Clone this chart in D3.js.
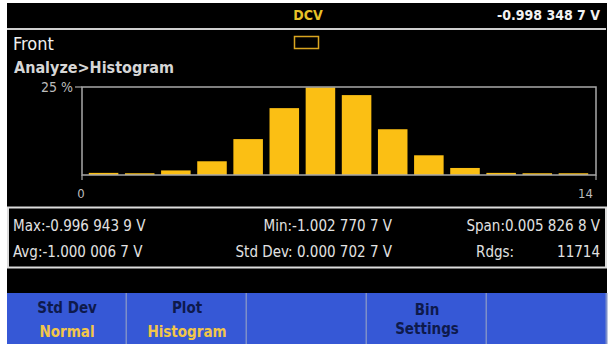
<!DOCTYPE html>
<html lang="en">
  <head>
    <meta charset="UTF-8" />
    <title>DCV Histogram</title>
    <script src="https://d3js.org/d3.v7.min.js"></script>
    <style>
      body { margin: 0; background: #fff; }
      svg { display: block; }
      text { font-family: "DejaVu Sans Condensed", "DejaVu Sans", sans-serif; }
    </style>
  </head>
  <body>
    <svg id="screen" width="615" height="351"></svg>

    <script>
      // histogram bins (0..13) and their share of readings in %
      const bins = [0, 1, 2, 3, 4, 5, 6, 7, 8, 9, 10, 11, 12, 13];
      const percents = [0.6, 0.5, 1.3, 3.9, 10.2, 19.0, 24.9, 22.7, 13.0, 5.6, 2.0, 0.6, 0.5, 0.5];
      const yTicks = [25];
      const xTickLabels = [0, 14];

      const reading = "-0.998 348 7 V";
      const statsRow1 = ["Max:-0.996 943 9 V", "Min:-1.002 770 7 V", "Span:0.005 826 8 V"];
      const statsRow2 = ["Avg:-1.000 006 7 V", "Std Dev: 0.000 702 7 V", "Rdgs:", "11714"];
      const buttonTop = ["Std Dev", "Plot", "", "", ""];
      const buttonBottom = ["Normal", "Histogram", "", "", ""];
      const buttonSingle = ["", "", "", "Bin\nSettings", ""];

      const svg = d3.select("#screen");

      // black screen
      svg.append("rect").attr("x", 7).attr("y", 3).attr("width", 600).attr("height", 290).attr("fill", "#000");

      // header
      svg.append("text").attr("x", 308).attr("y", 20).attr("text-anchor", "middle")
        .attr("font-size", 14).attr("font-weight", "bold").attr("fill", "#e8c228").text("DCV");
      svg.append("text").attr("x", 600).attr("y", 20).attr("text-anchor", "end")
        .attr("font-size", 14).attr("font-weight", "bold").attr("fill", "#f2f2f2").text(reading);
      svg.append("line").attr("x1", 7).attr("x2", 606).attr("y1", 29).attr("y2", 29)
        .attr("stroke", "#cfcfcf").attr("stroke-width", 2);
      svg.append("rect").attr("x", 294.5).attr("y", 36.5).attr("width", 24).attr("height", 12)
        .attr("fill", "none").attr("stroke", "#d9a520").attr("stroke-width", 1.5);

      svg.append("text").attr("x", 13).attr("y", 50).attr("font-size", 18).attr("fill", "#f0f0f0").text("Front");
      svg.append("text").attr("x", 14).attr("y", 73).attr("font-size", 16).attr("font-weight", "bold")
        .attr("fill", "#d6d6d6").text("Analyze>Histogram");

      // histogram
      const frame = { left: 82, right: 596, top: 87, bottom: 175 };
      const x = d3.scaleLinear().domain([0, bins.length]).range([85.5, 591.5]);
      const y = d3.scaleLinear().domain([0, 25]).range([frame.bottom, frame.top]);
      const binW = x(1) - x(0);

      svg.append("g").selectAll("rect").data(bins).join("rect")
        .attr("x", (d) => x(d) + 3.3)
        .attr("width", binW - 6.6)
        .attr("y", (d, i) => y(percents[i]))
        .attr("height", (d, i) => y(0) - y(percents[i]))
        .attr("fill", "#fbbf14");

      const axisColor = "#a8a8a8";
      svg.append("path")
        .attr("d", `M${frame.left},${frame.bottom}V${frame.top}H${frame.right}V${frame.bottom}Z`)
        .attr("fill", "none").attr("stroke", axisColor).attr("stroke-width", 1.5);

      // y tick
      svg.append("g").selectAll("g").data(yTicks).join("g").each(function (d) {
        const g = d3.select(this);
        g.append("line").attr("x1", frame.left - 7).attr("x2", frame.left).attr("y1", y(d)).attr("y2", y(d))
          .attr("stroke", axisColor).attr("stroke-width", 1.2);
        g.append("text").attr("x", frame.left - 9).attr("y", y(d) + 5).attr("text-anchor", "end")
          .attr("font-size", 14).attr("fill", "#bdbdbd").text(d + " %");
      });

      // x ticks at the frame ends
      const xFrame = d3.scaleLinear().domain([0, bins.length]).range([frame.left, frame.right]);
      svg.append("g").selectAll("g").data(xTickLabels).join("g").each(function (d, i) {
        const g = d3.select(this);
        g.append("line").attr("x1", xFrame(d)).attr("x2", xFrame(d)).attr("y1", frame.bottom).attr("y2", frame.bottom + 5)
          .attr("stroke", axisColor).attr("stroke-width", 1.2);
        g.append("text").attr("x", i === 0 ? xFrame(d) - 1 : xFrame(d) - 3).attr("y", 198)
          .attr("text-anchor", i === 0 ? "middle" : "end")
          .attr("font-size", 13).attr("fill", "#bdbdbd").text(d);
      });

      // stats box
      svg.append("rect").attr("x", 8).attr("y", 207.5).attr("width", 598).attr("height", 60)
        .attr("fill", "#000").attr("stroke", "#dcdcdc").attr("stroke-width", 2);
      const statX = [13, 392, 600];
      const statAnchor = ["start", "end", "end"];
      statsRow1.forEach((t, i) => {
        svg.append("text").attr("x", statX[i]).attr("y", 231).attr("text-anchor", statAnchor[i])
          .attr("font-size", 15).attr("fill", "#e2e2e2").text(t);
      });
      const statX2 = [13, 392, 476, 600];
      const statAnchor2 = ["start", "end", "start", "end"];
      statsRow2.forEach((t, i) => {
        svg.append("text").attr("x", statX2[i]).attr("y", 257).attr("text-anchor", statAnchor2[i])
          .attr("font-size", 15).attr("fill", "#e2e2e2").text(t);
      });

      // soft keys
      const btnW = 120;
      const keys = svg.append("g").selectAll("g").data(buttonTop).join("g")
        .attr("transform", (d, i) => `translate(${7 + i * btnW},293)`);
      keys.append("rect").attr("width", btnW).attr("height", 51).attr("fill", "#3658d6");
      keys.append("line").attr("x1", btnW - 0.5).attr("x2", btnW - 0.5).attr("y1", 0).attr("y2", 51)
        .attr("stroke", "#7d8fc9").attr("stroke-width", 2);
      keys.append("text").attr("x", btnW / 2).attr("y", 20).attr("text-anchor", "middle")
        .attr("font-size", 15).attr("font-weight", "bold").attr("fill", "#0e1a4c").text((d) => d);
      keys.append("text").attr("x", btnW / 2).attr("y", 44).attr("text-anchor", "middle")
        .attr("font-size", 15).attr("font-weight", "bold").attr("fill", "#f2c64a").text((d, i) => buttonBottom[i]);
      keys.each(function (d, i) {
        const lines = buttonSingle[i] ? buttonSingle[i].split("\n") : [];
        lines.forEach((l, j) => {
          d3.select(this).append("text").attr("x", btnW / 2).attr("y", 22 + j * 19).attr("text-anchor", "middle")
            .attr("font-size", 15).attr("font-weight", "bold").attr("fill", "#0e1a4c").text(l);
        });
      });
    </script>
  </body>
</html>
